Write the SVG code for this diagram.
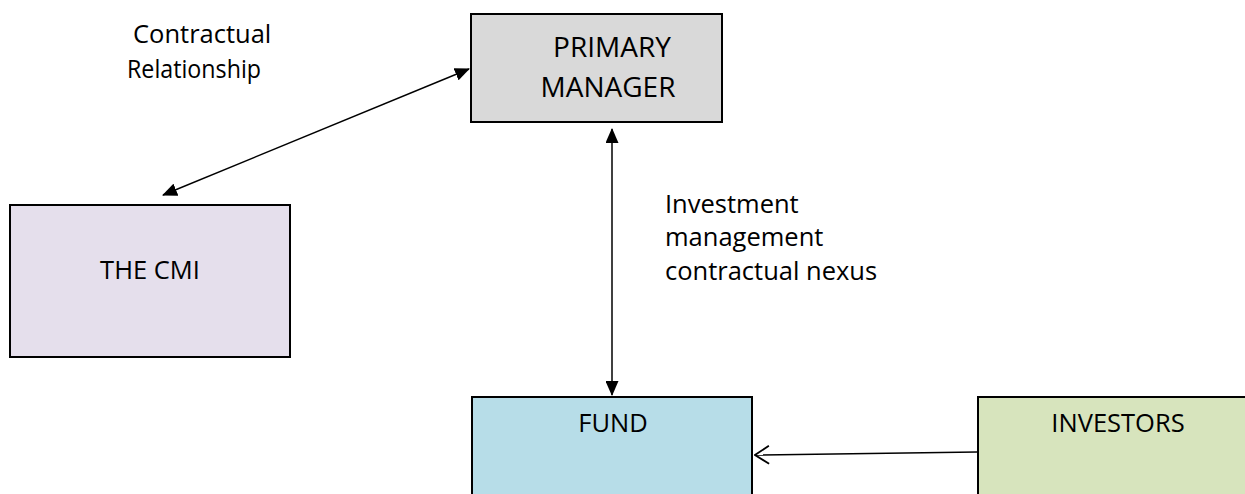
<svg xmlns="http://www.w3.org/2000/svg" width="1245" height="494" viewBox="0 0 1245 494">
<style>
  .box { stroke: #000; stroke-width: 2; }
  .t { font-family: "Open Sans", "Liberation Sans", sans-serif; font-size: 25.5px; fill: #000; }
  .big { font-size: 28px; }
  .c { text-anchor: middle; }
  .ln { stroke: #000; stroke-width: 1.5; fill: none; }
</style>
<defs>
  <marker id="tri" viewBox="0 0 15 13" refX="14" refY="6.5" markerWidth="15" markerHeight="13" markerUnits="userSpaceOnUse" orient="auto-start-reverse">
    <path d="M0,0 L15,6.5 L0,13 Z" fill="#000"/>
  </marker>
  <marker id="open" viewBox="0 0 16 20" refX="15" refY="10" markerWidth="16" markerHeight="20" markerUnits="userSpaceOnUse" orient="auto">
    <path d="M1,1 L15,10 L1,19" fill="none" stroke="#000" stroke-width="1.8"/>
  </marker>
</defs>
<g id="connectors">
  <line class="ln" x1="163" y1="195" x2="469" y2="69" marker-start="url(#tri)" marker-end="url(#tri)"/>
  <line class="ln" x1="612" y1="129" x2="612" y2="395" marker-start="url(#tri)" marker-end="url(#tri)"/>
  <line class="ln" x1="977" y1="452" x2="755" y2="455" marker-end="url(#open)"/>
</g>
<g id="primary-manager">
  <rect class="box" x="471" y="14" width="251" height="108" fill="#d9d9d9"/>
  <text class="t big c" x="612" y="57">PRIMARY</text>
  <text class="t big c" x="608" y="97">MANAGER</text>
</g>
<g id="the-cmi">
  <rect class="box" x="10" y="205" width="280" height="152" fill="#e5dfec"/>
  <text class="t c" x="150" y="279">THE CMI</text>
</g>
<g id="fund">
  <rect class="box" x="472" y="397" width="280" height="110" fill="#b7dde8"/>
  <text class="t c" x="613" y="432">FUND</text>
</g>
<g id="investors">
  <rect class="box" x="978" y="397" width="280" height="110" fill="#d7e4bd"/>
  <text class="t c" x="1118" y="432">INVESTORS</text>
</g>
<g id="labels">
  <text class="t" x="133" y="43">Contractual</text>
  <text class="t" x="127" y="78" textLength="134" lengthAdjust="spacingAndGlyphs">Relationship</text>
  <text class="t" x="665" y="213">Investment</text>
  <text class="t" x="665" y="246">management</text>
  <text class="t" x="665" y="280">contractual nexus</text>
</g>
</svg>
